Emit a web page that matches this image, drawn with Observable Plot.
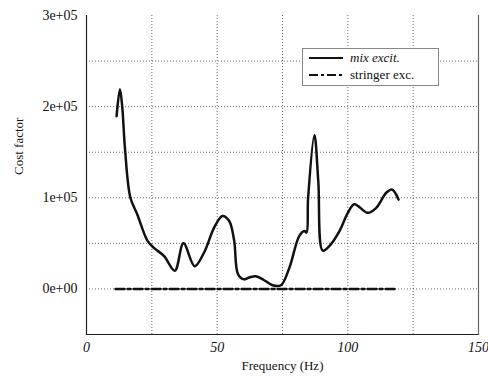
<!DOCTYPE html>
<html><head><meta charset="utf-8">
<script src="https://cdn.jsdelivr.net/npm/d3@7"></script>
<script src="https://cdn.jsdelivr.net/npm/@observablehq/plot@0.6"></script>
<style>
body{margin:0;background:#fff;}
#wrap{position:relative;width:488px;height:377px;font-family:"Liberation Serif","DejaVu Serif",serif;}
#legend{position:absolute;left:302px;top:48px;width:135px;height:36px;border:1px solid #888;background:#fff;font-size:13px;color:#111;}
.row{position:absolute;left:6px;height:14px;display:flex;align-items:center;}
.row svg{margin-right:7px;}
</style>
</head><body>
<div id="wrap"><div id="chart"></div>
<div id="legend">
<div class="row" style="top:2px"><svg width="34" height="6"><line x1="0" y1="3" x2="34" y2="3" stroke="#111" stroke-width="2.2"/></svg><span style="font-style:italic">mix excit.</span></div>
<div class="row" style="top:19px"><svg width="34" height="6"><line x1="0" y1="3" x2="34" y2="3" stroke="#111" stroke-width="2.2" stroke-dasharray="9,3,3,3"/></svg><span>stringer exc.</span></div>
</div>
</div>
<script>
const mixFreq = [11.5,12.8,13.7,14.7,16.8,19.4,23.3,25.8,29.7,33.8,37.1,41.4,45,48.8,52,54.6,56.5,58,60.3,62.3,64.8,68,71.2,74.4,77.6,81.4,83.4,84.2,84.8,87.2,88.7,90.4,92.9,96.8,100,102.5,107.6,110.9,114.7,116.9,119.4];
const mixCost = [189500,219000,199000,155000,100000,82000,53000,45000,36000,20000,50000,25000,40000,67000,80000,74500,53000,16000,10500,12500,14000,9500,4000,4000,23000,58000,63500,62000,100000,169000,118000,42000,47000,63500,83500,93000,83500,89000,105500,109000,98000];
const strFreq = [11.1,30,50,70,90,110,119];
const strCost = [0,0,0,0,0,0,0];
const xTicks = [0,50,100,150];
const yTicks = [0,100000,200000,300000];
const yTickLabels = ["0e+00","1e+05","2e+05","3e+05"];
const xGrid = [25,50,75,100,125];
const yGrid = [0,50000,100000,150000,200000,250000];
const xTitle = "Frequency (Hz)";
const yTitle = "Cost factor";

const mix = mixFreq.map((f,i)=>({f, c: mixCost[i]}));
const str = strFreq.map((f,i)=>({f, c: strCost[i]}));

const chart = Plot.plot({
  width: 488, height: 377,
  marginLeft: 86, marginRight: 10, marginTop: 15, marginBottom: 43,
  style: {fontFamily: '"Liberation Serif", serif', fontSize: "13px", color: "#111", background: "#fff"},
  x: {domain: [0,150]},
  y: {domain: [-50000,300000]},
  marks: [
    Plot.ruleX(xGrid, {stroke: "#444", strokeDasharray: "1,2", strokeWidth: 0.8}),
    Plot.ruleY(yGrid, {stroke: "#444", strokeDasharray: "1,2", strokeWidth: 0.8}),
    Plot.frame({anchor: "left", stroke: "#222", strokeWidth: 1.2}),
    Plot.frame({anchor: "bottom", stroke: "#222", strokeWidth: 1.2}),
    Plot.frame({anchor: "right", stroke: "#666", strokeWidth: 1.2}),
    Plot.axisX({ticks: xTicks, tickSize: 0, tickPadding: 8, fontStyle: "italic", fontSize: 14, label: null}),
    Plot.axisY({ticks: yTicks, tickSize: 0, tickPadding: 9, tickFormat: (d)=>yTickLabels[yTicks.indexOf(d)], fontSize: 14, label: null}),
    Plot.text([xTitle], {text: d=>d, frameAnchor: "bottom", dy: 35, fontSize: 13, fill: "#111"}),
    Plot.text([yTitle], {text: d=>d, frameAnchor: "left", dx: -68, rotate: -90, fontSize: 13, fill: "#111"}),
    Plot.line(str, {x: "f", y: "c", stroke: "#111", strokeWidth: 2.4, strokeDasharray: "9,3,3,3"}),
    Plot.line(mix, {x: "f", y: "c", stroke: "#111", strokeWidth: 2.5, curve: "catmull-rom"})
  ]
});
document.getElementById("chart").appendChild(chart);
</script>
</body></html>
